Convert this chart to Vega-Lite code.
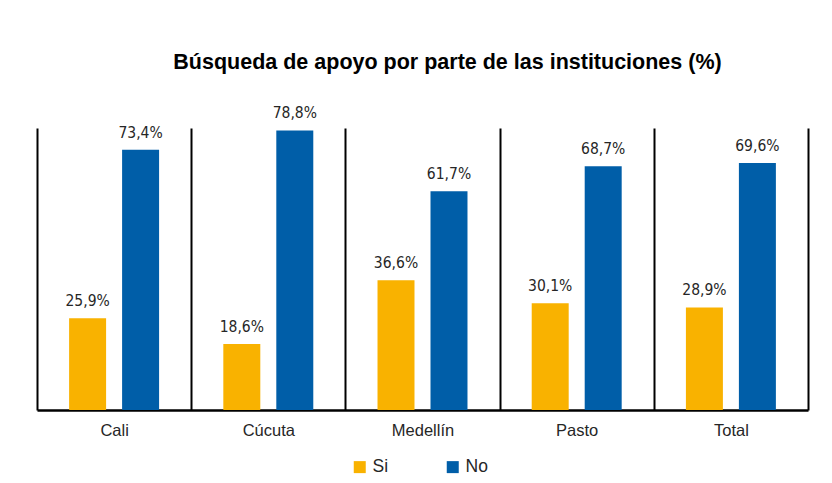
{
  "$schema": "https://vega.github.io/schema/vega-lite/v6.json",
  "width": 771,
  "height": 282,
  "autosize": {"type": "none"},
  "padding": {"left": 37, "top": 128, "right": 24, "bottom": 73},
  "config": {
    "locale": {"number": {"decimal": ",", "thousands": ".", "grouping": [3], "currency": ["", "€"]}},
    "view": {"stroke": null},
    "font": "Liberation Sans"
  },
  "title": {
    "text": "Búsqueda de apoyo por parte de las instituciones (%)",
    "fontSize": 21.5,
    "font": "Liberation Sans",
    "fontWeight": "bold",
    "color": "#000000",
    "anchor": "middle",
    "dx": 25,
    "offset": 33
  },
  "data": {
    "values": [
      {"ciudad": "Cali", "resp": "Si", "v": 0.259},
      {"ciudad": "Cali", "resp": "No", "v": 0.734},
      {"ciudad": "Cúcuta", "resp": "Si", "v": 0.186},
      {"ciudad": "Cúcuta", "resp": "No", "v": 0.788},
      {"ciudad": "Medellín", "resp": "Si", "v": 0.366},
      {"ciudad": "Medellín", "resp": "No", "v": 0.617},
      {"ciudad": "Pasto", "resp": "Si", "v": 0.301},
      {"ciudad": "Pasto", "resp": "No", "v": 0.687},
      {"ciudad": "Total", "resp": "Si", "v": 0.289},
      {"ciudad": "Total", "resp": "No", "v": 0.696}
    ]
  },
  "encoding": {
    "x": {
      "field": "ciudad",
      "type": "nominal",
      "sort": ["Cali", "Cúcuta", "Medellín", "Pasto", "Total"],
      "scale": {"paddingInner": 0, "paddingOuter": 0},
      "axis": {
        "title": null,
        "labelAngle": 0,
        "tickBand": "extent",
        "grid": true,
        "gridColor": "#000000",
        "gridWidth": 2,
        "ticks": false,
        "domainColor": "#000000",
        "domainWidth": 2.5,
        "labelFontSize": 16.5,
        "labelColor": "#262626",
        "labelPadding": 12
      }
    },
    "xOffset": {
      "field": "resp",
      "sort": ["Si", "No"],
      "scale": {"paddingInner": 0.302, "paddingOuter": 0.606}
    },
    "y": {
      "field": "v",
      "type": "quantitative",
      "scale": {"domain": [0, 0.795]},
      "axis": null
    }
  },
  "layer": [
    {
      "mark": {"type": "bar"},
      "encoding": {
        "color": {
          "field": "resp",
          "type": "nominal",
          "scale": {"domain": ["Si", "No"], "range": ["#F9B200", "#005EA8"]},
          "legend": {
            "title": null,
            "orient": "none",
            "legendX": 314,
            "legendY": 330,
            "direction": "horizontal",
            "symbolType": "square",
            "symbolSize": 144,
            "symbolStrokeWidth": 0,
            "labelFontSize": 17.5,
            "labelColor": "#262626",
            "columnPadding": 55
          }
        }
      }
    },
    {
      "mark": {"type": "text", "baseline": "bottom", "dy": -9, "fontSize": 15.5, "font": "DejaVu Sans Condensed", "color": "#262626"},
      "encoding": {"text": {"field": "v", "type": "quantitative", "format": ".1%"}}
    }
  ]
}
